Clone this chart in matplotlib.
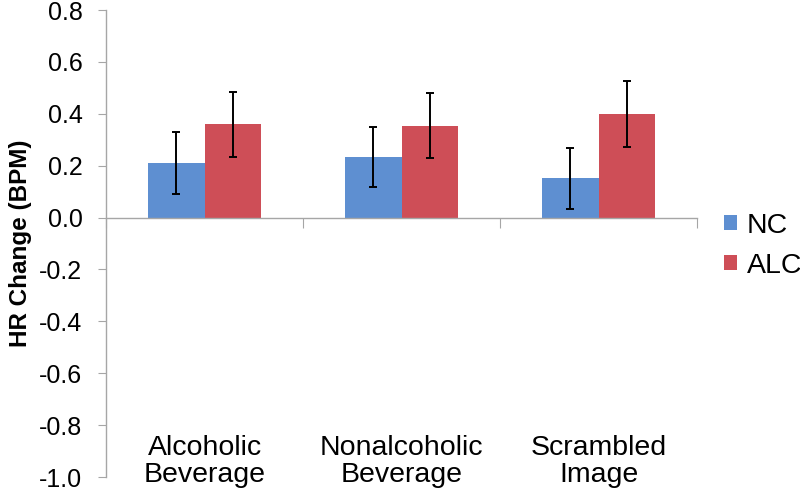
import matplotlib
matplotlib.use("Agg")
import matplotlib.pyplot as plt
import numpy as np
import matplotlib.transforms as mtransforms

plt.rcParams['font.family'] = ['Liberation Sans', 'DejaVu Sans']

categories = ["Alcoholic\nBeverage", "Nonalcoholic\nBeverage", "Scrambled\nImage"]
series = ["NC", "ALC"]
nc_vals = [0.21, 0.234, 0.152]
nc_err = [0.118, 0.117, 0.118]
alc_vals = [0.359, 0.354, 0.398]
alc_err = [0.126, 0.125, 0.127]
yticks = [-1.0, -0.8, -0.6, -0.4, -0.2, 0.0, 0.2, 0.4, 0.6, 0.8]

colors = ["#5E8FD1", "#CE4E57"]
gray = "#A6A6A6"

fig = plt.figure(figsize=(8, 4.96), dpi=100)
ax = fig.add_axes([0.1325, 0.0383, 0.7388, 0.9415])

x = np.arange(len(categories))
w = 1 / 3.5
ax.bar(x - w/2, nc_vals, w, color=colors[0], label=series[0], zorder=2)
ax.bar(x + w/2, alc_vals, w, color=colors[1], label=series[1], zorder=2)
ax.errorbar(x - w/2, nc_vals, yerr=nc_err, fmt='none', ecolor='black',
            elinewidth=1.4, capsize=2.8, capthick=1.4, zorder=3)
ax.errorbar(x + w/2, alc_vals, yerr=alc_err, fmt='none', ecolor='black',
            elinewidth=1.4, capsize=2.8, capthick=1.4, zorder=3)

ax.set_xlim(-0.5, len(categories) - 0.5)
ax.set_ylim(-1.0, 0.8)
ax.set_yticks(yticks)
ax.set_yticklabels([f"{v:.1f}" for v in yticks], fontsize=18)

for s in ['top', 'right']:
    ax.spines[s].set_visible(False)
ax.spines['left'].set_color(gray)
ax.spines['bottom'].set_color(gray)
ax.spines['bottom'].set_position(('data', 0))
ax.spines['left'].set_linewidth(1.0)
ax.spines['bottom'].set_linewidth(1.0)

ax.set_xticks(np.arange(len(categories) + 1) - 0.5)
ax.set_xticklabels([])
ax.tick_params(axis='x', length=7, color=gray, direction='out')
ax.tick_params(axis='y', length=6, color=gray, direction='out', pad=11)

trans = mtransforms.blended_transform_factory(ax.transData, ax.transAxes)
for i, c in enumerate(categories):
    ax.text(i, 0.033, c, transform=trans, ha='center', va='center',
            fontsize=20.5, linespacing=1.05)

ax.set_ylabel("HR Change (BPM)", fontsize=17.5, fontweight='bold', labelpad=5)

ax.legend(loc='center left', bbox_to_anchor=(1.022, 0.495), frameon=False,
          fontsize=20.5, handlelength=0.45, handleheight=0.45, handletextpad=0.35,
          labelspacing=0.5, borderpad=0)

fig.savefig("out.png", dpi=100)
